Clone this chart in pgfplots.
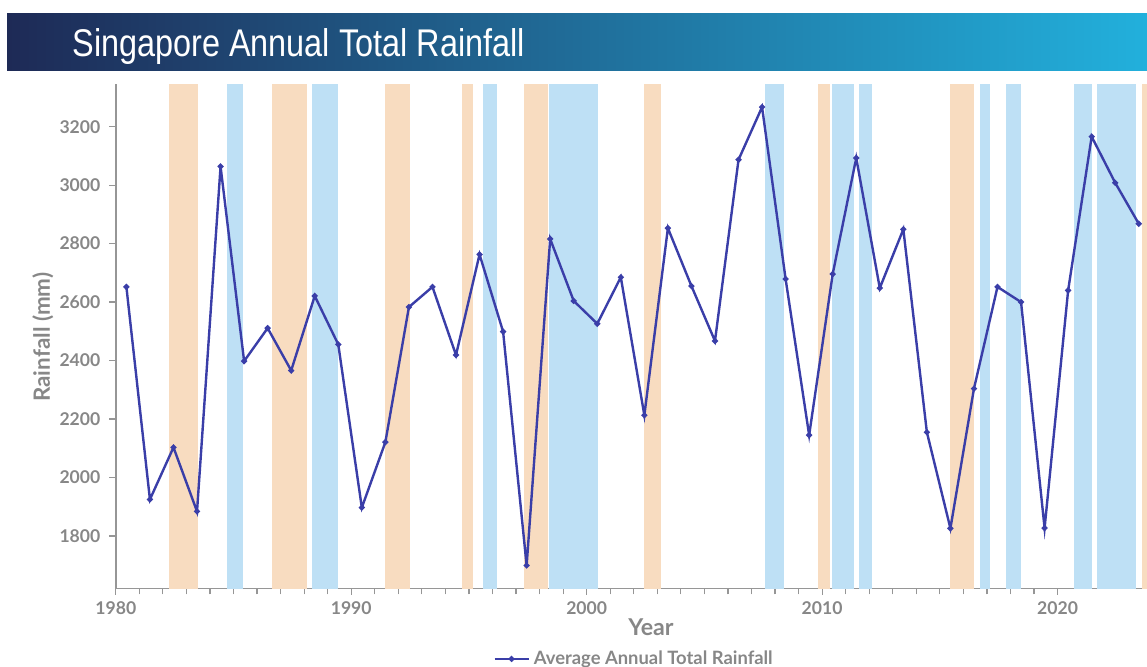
\documentclass[border=0pt]{standalone}
\usepackage{fontspec}
\setmainfont{Lato}
\newfontfamily\titlefont[FakeStretch=0.84]{Liberation Sans}
\usepackage{pgfplots}
\usepackage{pgfplotstable}
\pgfplotsset{compat=1.18}

\definecolor{rainline}{RGB}{58,62,168}
\definecolor{elnino}{RGB}{248,220,192}
\definecolor{lanina}{RGB}{190,224,245}
\definecolor{axisgray}{RGB}{150,150,150}
\definecolor{labelgray}{RGB}{135,135,135}
\definecolor{titleL}{RGB}{30,42,86}
\definecolor{titleM}{RGB}{31,96,145}
\definecolor{titleR}{RGB}{34,176,220}

% Annual total rainfall (mm)
\pgfplotstableread{
year mm
1980 2652
1981 1925
1982 2103
1983 1884
1984 3064
1985 2398
1986 2511
1987 2366
1988 2621
1989 2455
1990 1897
1991 2121
1992 2583
1993 2652
1994 2419
1995 2763
1996 2499
1997 1699
1998 2816
1999 2604
2000 2526
2001 2685
2002 2213
2003 2853
2004 2655
2005 2467
2006 3087
2007 3267
2008 2679
2009 2145
2010 2696
2011 3093
2012 2648
2013 2849
2014 2155
2015 1826
2016 2304
2017 2652
2018 2600
2019 1827
2020 2640
2021 3166
2022 3008
2023 2868
}\rainfall

\newcommand{\band}[3]{%
  \addplot[fill=#1, draw=none, forget plot]
    coordinates {(#2,1500) (#2,3500) (#3,3500) (#3,1500)} -- cycle;}

\begin{document}
\begin{tikzpicture}
\useasboundingbox (0pt,0pt) rectangle (573.5pt,333pt);
\clip (0pt,0pt) rectangle (573.5pt,333pt);

% title banner
\shade[left color=titleL, middle color=titleM, right color=titleR]
  (3.5pt,298pt) rectangle (573.5pt,326pt);
\node[anchor=base west, text=white, inner sep=0pt,
  font=\titlefont\fontsize{19.3}{22}\selectfont] at (36pt,305pt)
  {Singapore Annual Total Rainfall};

\begin{axis}[
  at={(57.9pt,38.85pt)}, anchor=south west,
  scale only axis, width=515.6pt, height=252.15pt,
  xmin=1980, xmax=2023.8, ymin=1621, ymax=3346,
  axis lines=left,
  axis line style={-, draw=axisgray, line width=0.8pt},
  xtick={1980,1990,2000,2010,2020},
  minor x tick num=9,
  ytick={1800,2000,...,3200},
  tick align=outside,
  major tick length=3.2pt, minor tick length=3pt,
  every tick/.style={draw=axisgray, line width=0.6pt},
  every minor tick/.style={draw=axisgray, line width=0.6pt},
  /pgf/number format/assume math mode=true,
  x tick label style={/pgf/number format/1000 sep={}},
  y tick label style={/pgf/number format/1000 sep={}, xshift=-1pt},
  tick label style={font=\bfseries\fontsize{8.8}{10.5}\selectfont, text=labelgray},
  xlabel={Year},
  ylabel={Rainfall (mm)},
  xlabel style={font=\bfseries\fontsize{11.6}{14}\selectfont, text=labelgray,
    at={(axis description cs:0.519,-0.0767)}, anchor=center},
  ylabel style={font=\bfseries\fontsize{11.2}{13}\selectfont, text=labelgray,
    at={(axis description cs:-0.0708,0.498)}, anchor=center},
  legend style={draw=none, fill=none,
    at={(axis description cs:0.5035,-0.140)}, anchor=center,
    font=\bfseries\fontsize{9.2}{11}\selectfont, text=labelgray},
  legend cell align=left,
]
% El Nino years
\band{elnino}{1982.27}{1983.50}
\band{elnino}{1986.64}{1988.12}
\band{elnino}{1991.44}{1992.50}
\band{elnino}{1994.71}{1995.18}
\band{elnino}{1997.35}{1998.37}
\band{elnino}{2002.45}{2003.17}
\band{elnino}{2009.84}{2010.35}
\band{elnino}{2015.45}{2016.47}
\band{elnino}{2023.57}{2024.50}
% La Nina years
\band{lanina}{1984.73}{1985.41}
\band{lanina}{1988.33}{1989.44}
\band{lanina}{1995.61}{1996.21}
\band{lanina}{1998.41}{2000.49}
\band{lanina}{2007.59}{2008.40}
\band{lanina}{2010.43}{2011.37}
\band{lanina}{2011.58}{2012.13}
\band{lanina}{2016.69}{2017.12}
\band{lanina}{2017.80}{2018.44}
\band{lanina}{2020.70}{2021.47}
\band{lanina}{2021.68}{2023.33}

\addplot[rainline, line width=1.2pt, mark=*, mark size=0.8pt]
  table[x expr=\thisrow{year}+0.45, y=mm] {\rainfall};
\addlegendentry{Average Annual Total Rainfall}
\end{axis}
\end{tikzpicture}
\end{document}
